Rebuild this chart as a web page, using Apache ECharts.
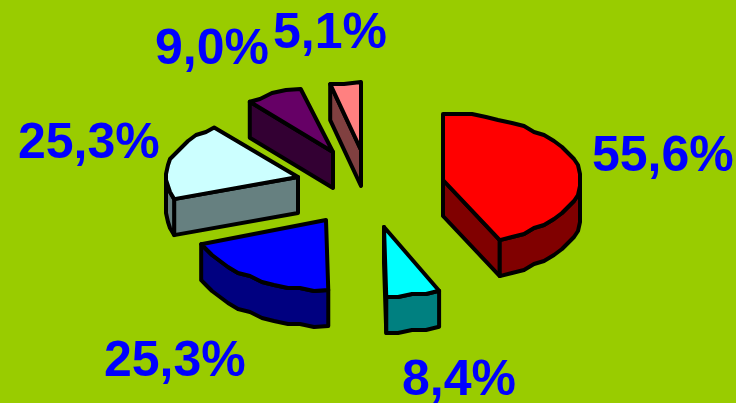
<!DOCTYPE html>
<html><head><meta charset="utf-8">
<style>html,body{margin:0;padding:0;background:#99CC00}#c{width:736px;height:403px}</style>
<script src="https://cdn.jsdelivr.net/npm/echarts@6/dist/echarts.min.js"></script>
</head><body><div id="c"></div>
<script>
var values = [55.6, 8.4, 25.3, 25.3, 9.0, 5.1];
var topColors = ['#FF0000', '#00FFFF', '#0000FF', '#CCFFFF', '#660066', '#FF8080'];
var sideColors = ['#800000', '#008080', '#000080', '#668080', '#330033', '#804040'];

// layout
var pie = {cx: 362, cy: 187, depth: 36, step: 6, snapX: 2, snapY: 3};
var radiusX = [137, 133, 133, 132, 131, 125];
var radiusY = [66, 70, 70, 64, 65, 68];
var explodeX = [81, 22, -36, -64, -29, -1];
var explodeY = [-7, 40, 33, -10, -35, -37];
var labelX = [592, 402, 104, 18, 155, 273];
var labelY = [182, 406, 387, 169, 75, 59];

var total = values.reduce(function (a, b) { return a + b; }, 0);
function snap(v, g) { return Math.round(v / g) * g; }

function renderItem(params, api) {
  var i = params.dataIndex, start = 0;
  for (var k = 0; k < i; k++) start += values[k];
  var a0 = start / total * 360, a1 = (start + api.value(0)) / total * 360;
  var ax = pie.cx + explodeX[i], ay = pie.cy + explodeY[i];
  function rimPt(deg, snapped) {
    var r = deg * Math.PI / 180;
    var x = ax + radiusX[i] * Math.sin(r), y = ay - radiusY[i] * Math.cos(r);
    return snapped ? [snap(x, pie.snapX), snap(y, pie.snapY)] : [x, y];
  }
  function arc(from, to) {
    var pts = [rimPt(from, false)];
    for (var d = from + pie.step; d < to - pie.step / 2; d += pie.step) pts.push(rimPt(d, true));
    pts.push(rimPt(to, false));
    return pts;
  }
  function down(p) { return [p[0], p[1] + pie.depth]; }
  function poly(points, fill) {
    return {type: 'polygon', shape: {points: points},
      style: {fill: fill, stroke: '#000', lineWidth: 4, lineJoin: 'round'}};
  }
  var apex = [ax, ay], children = [], side = sideColors[i];
  var topRim = arc(a0, a1);
  var p0 = topRim[0], p1 = topRim[topRim.length - 1];

  if (p0[0] < ax - 0.1) children.push(poly([apex, p0, down(p0), down(apex)], side));
  if (p1[0] > ax) children.push(poly([apex, p1, down(p1), down(apex)], side));
  var v0 = Math.max(a0, 90), v1 = Math.min(a1, 270);
  if (v1 > v0) {
    var near = arc(v0, v1);
    children.push(poly(near.concat(near.slice().reverse().map(down)), side));
  }
  children.push(poly([apex].concat(topRim), topColors[i]));
  children.push({type: 'text', style: {
    x: labelX[i], y: labelY[i],
    text: values[i].toFixed(1).replace('.', ',') + '%',
    fill: '#0000FF', font: 'bold 50px "Liberation Sans", Arial, sans-serif',
    textAlign: 'left', verticalAlign: 'bottom'
  }});
  return {type: 'group', children: children};
}

var chart = echarts.init(document.getElementById('c'), null, {renderer: 'canvas'});
chart.setOption({
  backgroundColor: '#99CC00',
  animation: false,
  series: [{type: 'custom', coordinateSystem: 'none', clip: false, silent: true,
    renderItem: renderItem,
    data: values.map(function (v) { return [v]; })}]
});
</script></body></html>
